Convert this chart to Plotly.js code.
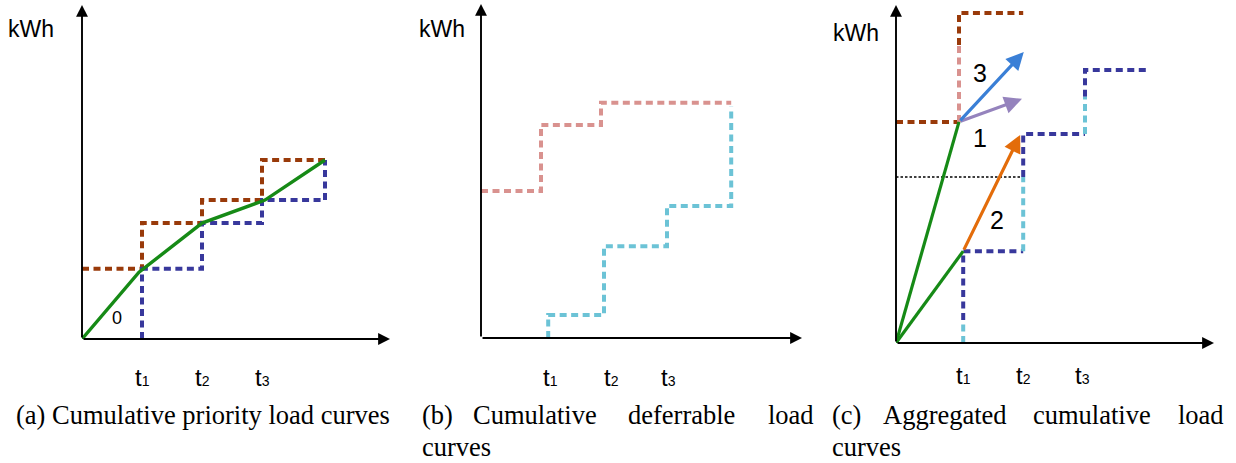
<!DOCTYPE html>
<html>
<head>
<meta charset="utf-8">
<script src="https://cdn.plot.ly/plotly-3.0.1.min.js"></script>
<style>
  html, body { margin: 0; padding: 0; background: #fff; }
  #chart { width: 1236px; height: 463px; }
</style>
</head>
<body>
<div id="chart"></div>
<script>
// ---- (a) cumulative priority load curves ----
const aTicks = [1, 2, 3];
const aUpperX = [0, 1, 1, 2, 2, 3, 3, 4.05];
const aUpperY = [2.10, 2.10, 3.47, 3.47, 4.16, 4.16, 5.36, 5.36];
const aLowerX = [1, 1, 2, 2, 3, 3, 4.05, 4.05];
const aLowerY = [0, 2.10, 2.10, 3.47, 3.47, 4.16, 4.16, 5.36];
const aPathX = [0, 0.95, 2, 3.05, 4.05];
const aPathY = [0, 2.0, 3.47, 4.16, 5.36];

// ---- (b) cumulative deferrable load curves ----
const bTicks = [1.15, 2.17, 3.13];
const bUpperX = [0, 1.0, 1.0, 2.0, 2.0, 4.17];
const bUpperY = [4.40, 4.40, 6.38, 6.38, 7.04, 7.04];
const bLowerX = [1.12, 1.12, 2.05, 2.05, 3.10, 3.10, 4.17, 4.17];
const bLowerY = [0, 0.69, 0.69, 2.75, 2.75, 3.95, 3.95, 6.92];

// ---- (c) aggregated cumulative load curves ----
const cTicks = [1.12, 2.12, 3.10];
// upper aggregated curve: priority part (brown) and deferrable part (pink)
const cUpperPrioX = [0, 1.05, null, 1.05, 1.05, 2.12];
const cUpperPrioY = [6.62, 6.62, null, 8.92, 9.88, 9.88];
const cUpperDefX = [1.05, 1.05];
const cUpperDefY = [6.62, 8.92];
// lower aggregated curve: priority part (dark blue) and deferrable part (cyan)
const cLowerPrioX = [1.12, 1.12, 2.12, null, 2.12, 2.12, 3.15, 3.15, null, 3.15, 3.15, 4.20];
const cLowerPrioY = [0.69, 2.75, 2.75, null, 4.97, 6.26, 6.26, 6.26, null, 7.37, 8.17, 8.17];
const cLowerDefX = [1.12, 1.12, null, 2.12, 2.12, null, 3.15, 3.15];
const cLowerDefY = [0, 0.69, null, 2.75, 4.97, null, 6.26, 7.37];
// threshold level
const cLevelX = [0, 2.12];
const cLevelY = [4.97, 4.97];
// charging paths from the origin
const cPathX = [0, 1.05, null, 0, 1.12];
const cPathY = [0, 6.62, null, 0, 2.75];
// direction arrows: [fromX, fromY, toX, toY]
const cArrowOptions = {
  '1': [1.05, 6.62, 2.10, 7.31],
  '2': [1.12, 2.75, 2.07, 6.23],
  '3': [1.05, 6.62, 2.13, 8.71]
};
const cArrowLabels = ['3', '1', '2'];
const cArrowLabelX = [1.40, 1.40, 1.68];
const cArrowLabelY = [8.08, 6.14, 3.68];

const tickLabels = ['1', '2', '3'];
const captions = [
  ['(a) Cumulative priority load curves'],
  ['(b)', 'Cumulative', 'deferrable', 'load', 'curves'],
  ['(c)', 'Aggregated', 'cumulative', 'load', 'curves']
];

// ---------------- layout helpers ----------------
const W = 1236, H = 463;
const X_UNIT = 60, Y_UNIT = 33.4;
// pixel frame of each panel: origin and arrow tips
const frames = [
  { ox: 82,  oy: 339, right: 390,  top: 5, tickY: 377, kx: 31,  ky: 29 },
  { ox: 481, oy: 338, right: 802,  top: 4, tickY: 377, kx: 442, ky: 29 },
  { ox: 896, oy: 343, right: 1214, top: 5, tickY: 375, kx: 856, ky: 33 }
];
const C = {
  brown: '#993a0a', navy: '#38389c', green: '#168a16',
  pink: '#d9928f', cyan: '#6cc3d6',
  blueArrow: '#3a7fd6', orange: '#e36c0a', purple: '#9583bd'
};
const DASH = '7px,4.5px';
const LW = 4;

const layout = {
  width: W, height: H, autosize: false,
  margin: { l: 0, r: 0, t: 0, b: 0 },
  paper_bgcolor: '#fff', plot_bgcolor: 'rgba(0,0,0,0)',
  showlegend: false, hovermode: false,
  font: { family: 'Liberation Sans, Arial, sans-serif', color: '#000' },
  annotations: []
};
const ids = ['', '2', '3'];
frames.forEach((f, i) => {
  const xr = (f.right - f.ox) / X_UNIT;
  const yr = (f.oy - f.top) / Y_UNIT;
  const axCommon = { showgrid: false, zeroline: false, showline: false,
                     showticklabels: false, ticks: '', fixedrange: true };
  layout['xaxis' + ids[i]] = Object.assign({}, axCommon, {
    domain: [f.ox / W, f.right / W], range: [0, xr], anchor: 'y' + ids[i]
  });
  layout['yaxis' + ids[i]] = Object.assign({}, axCommon, {
    domain: [1 - f.oy / H, 1 - f.top / H], range: [0, yr], anchor: 'x' + ids[i]
  });
  const xref = 'x' + ids[i], yref = 'y' + ids[i];
  // axes drawn as arrows
  [[xr, 0], [0, yr]].forEach(([tx, ty]) => {
    layout.annotations.push({
      xref, yref, axref: xref, ayref: yref,
      x: tx, y: ty, ax: 0, ay: 0, text: '', showarrow: true,
      arrowhead: 2, arrowsize: 1.25, arrowwidth: 1.9, arrowcolor: '#000', standoff: 0
    });
  });
  // kWh label
  layout.annotations.push({
    xref: 'paper', yref: 'paper', x: f.kx / W, y: 1 - f.ky / H,
    xanchor: 'center', yanchor: 'middle', showarrow: false, text: 'kWh',
    font: { size: 23, color: '#000' }
  });
});

// time tick labels
[aTicks, bTicks, cTicks].forEach((ticks, i) => {
  ticks.forEach((v, k) => {
    layout.annotations.push({
      xref: 'x' + ids[i], yref: 'paper', x: v, y: 1 - frames[i].tickY / H,
      xanchor: 'center', yanchor: 'middle', showarrow: false,
      text: 't<span style="font-size:14px">' + tickLabels[k] + '</span>',
      font: { size: 24, color: '#000' }
    });
  });
});

// "0" label on the path in (a)
layout.annotations.push({
  xref: 'x', yref: 'y', x: 0.58, y: 0.63, text: '0', showarrow: false,
  xanchor: 'center', yanchor: 'middle', font: { size: 18, color: '#000' }
});

// direction arrows in (c)
const arrowColor = { '1': C.purple, '2': C.orange, '3': C.blueArrow };
Object.keys(cArrowOptions).forEach(k => {
  const [x0, y0, x1, y1] = cArrowOptions[k];
  layout.annotations.push({
    xref: 'x3', yref: 'y3', axref: 'x3', ayref: 'y3',
    x: x1, y: y1, ax: x0, ay: y0, text: '', showarrow: true,
    arrowhead: 2, arrowsize: 1.1, arrowwidth: 3.2, arrowcolor: arrowColor[k], standoff: 0
  });
});
cArrowLabels.forEach((t, k) => {
  layout.annotations.push({
    xref: 'x3', yref: 'y3', x: cArrowLabelX[k], y: cArrowLabelY[k], text: t,
    showarrow: false, xanchor: 'center', yanchor: 'middle',
    font: { size: 25, color: '#000' }
  });
});

// captions
const capFont = { family: 'Liberation Serif, Times New Roman, serif', size: 26.5, color: '#000' };
const line1Y = 1 - 415 / H, line2Y = 1 - 447 / H;
layout.annotations.push({
  xref: 'paper', yref: 'paper', x: 14 / W, y: line1Y, xanchor: 'left', yanchor: 'middle',
  showarrow: false, text: captions[0][0], font: capFont
});
const wordX = [[420, 471, 626, 766, 420], [830, 881, 1031, 1176, 830]];
[captions[1], captions[2]].forEach((words, i) => {
  words.forEach((w, k) => {
    layout.annotations.push({
      xref: 'paper', yref: 'paper', x: wordX[i][k] / W, y: k < 4 ? line1Y : line2Y,
      xanchor: 'left', yanchor: 'middle', showarrow: false, text: w, font: capFont
    });
  });
});

function step(x, y, color, axis, opts) {
  return Object.assign({
    type: 'scatter', mode: 'lines', x, y,
    xaxis: 'x' + axis, yaxis: 'y' + axis,
    line: { color, width: LW, dash: DASH }, hoverinfo: 'skip'
  }, opts || {});
}

const traces = [
  // (a)
  step(aUpperX, aUpperY, C.brown, ''),
  step(aLowerX, aLowerY, C.navy, ''),
  { type: 'scatter', mode: 'lines', x: aPathX, y: aPathY, xaxis: 'x', yaxis: 'y',
    line: { color: C.green, width: 3.4 }, hoverinfo: 'skip' },
  // (b)
  step(bUpperX, bUpperY, C.pink, '2'),
  step(bLowerX, bLowerY, C.cyan, '2'),
  // (c)
  { type: 'scatter', mode: 'lines', x: cLevelX, y: cLevelY, xaxis: 'x3', yaxis: 'y3',
    line: { color: '#000', width: 1.6, dash: '2.5px,2px' }, hoverinfo: 'skip' },
  step(cUpperPrioX, cUpperPrioY, C.brown, '3'),
  step(cUpperDefX, cUpperDefY, C.pink, '3'),
  step(cLowerPrioX, cLowerPrioY, C.navy, '3'),
  step(cLowerDefX, cLowerDefY, C.cyan, '3'),
  { type: 'scatter', mode: 'lines', x: cPathX, y: cPathY, xaxis: 'x3', yaxis: 'y3',
    line: { color: C.green, width: 3.2 }, connectgaps: false, hoverinfo: 'skip' }
];

Plotly.newPlot('chart', traces, layout, { staticPlot: true, displayModeBar: false });
</script>
</body>
</html>
